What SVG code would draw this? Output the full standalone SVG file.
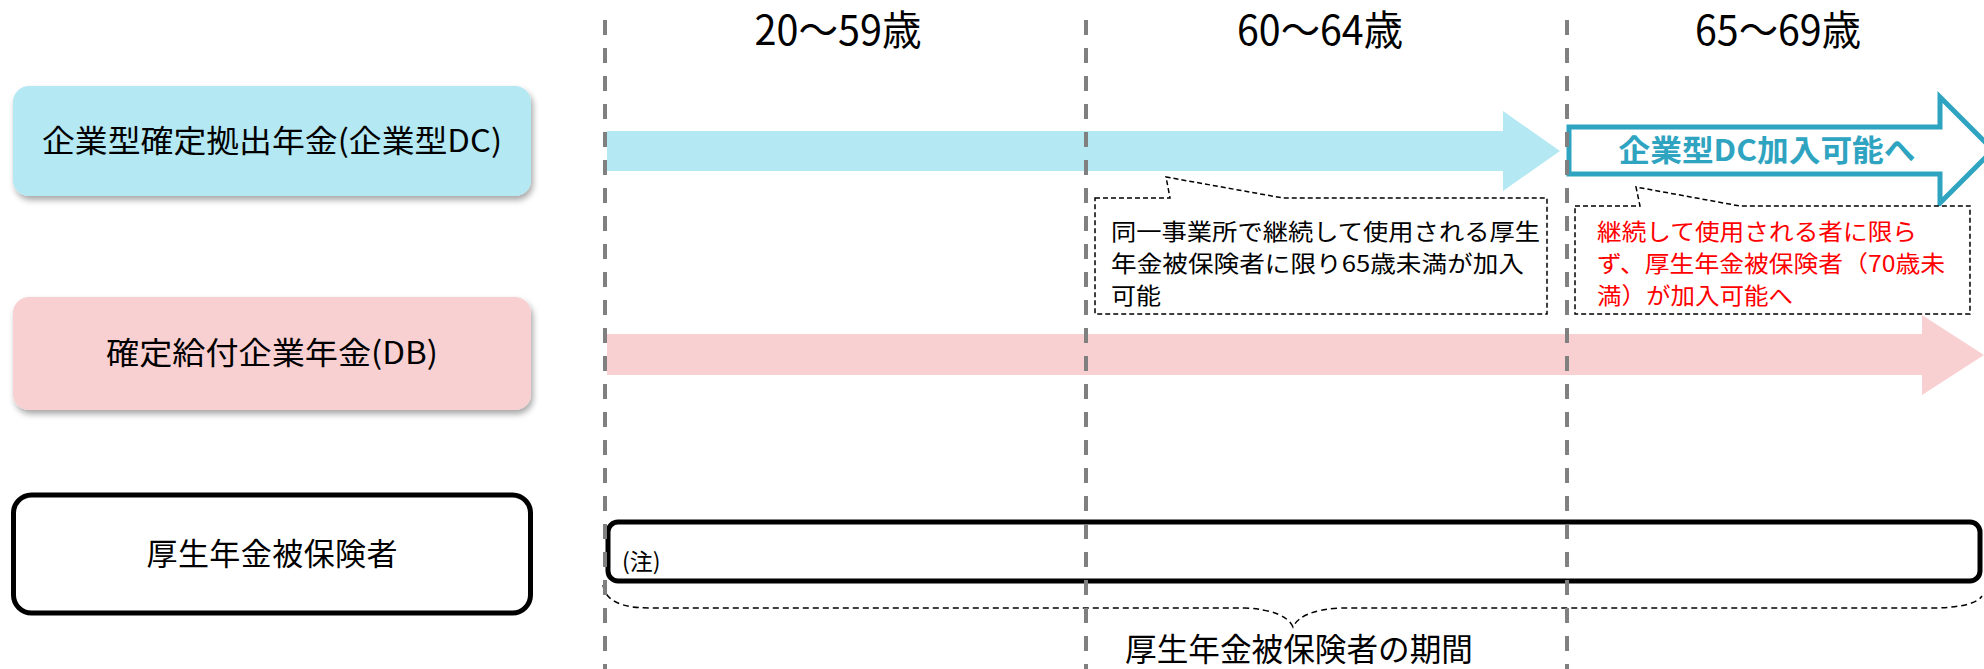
<svg xmlns="http://www.w3.org/2000/svg" width="1984" height="669" viewBox="0 0 1984 669">
<defs>
<filter id="sh" x="-5%" y="-10%" width="110%" height="130%">
<feDropShadow dx="2" dy="4" stdDeviation="3" flood-color="#000" flood-opacity="0.35"/>
</filter>
<style>
text{font-family:"Noto Sans CJK JP","Noto Sans CJK SC",sans-serif;fill:#000}
.hdr{font-size:41px;text-anchor:middle}
.node{font-size:31px;text-anchor:middle}
.note{font-size:23px}
.red{fill:#ff0000}
.vline{stroke:#808080;stroke-width:4;stroke-dasharray:15 13;fill:none}
.callout{fill:#fff;stroke:#000;stroke-width:1.5;stroke-dasharray:5 3}
</style>
</defs>
<rect width="1984" height="669" fill="#fff"/>

<g id="headers">
<text class="hdr" x="838" y="45" textLength="167" lengthAdjust="spacingAndGlyphs">20～59歳</text>
<text class="hdr" x="1320" y="45" textLength="166" lengthAdjust="spacingAndGlyphs">60～64歳</text>
<text class="hdr" x="1778" y="45" textLength="166" lengthAdjust="spacingAndGlyphs">65～69歳</text>
</g>

<g id="node-dc">
<rect x="13" y="86" width="518" height="110" rx="16" fill="#b4e8f3" filter="url(#sh)"/>
<text class="node" x="272" y="152" textLength="460" lengthAdjust="spacingAndGlyphs">企業型確定拠出年金(企業型DC)</text>
</g>
<g id="node-db">
<rect x="13" y="297" width="518" height="113" rx="16" fill="#f8d0d2" filter="url(#sh)"/>
<text class="node" x="272" y="364" textLength="332" lengthAdjust="spacingAndGlyphs">確定給付企業年金(DB)</text>
</g>
<g id="node-kosei">
<rect x="13.5" y="495" width="517" height="118" rx="18" fill="#fff" stroke="#000" stroke-width="5"/>
<text class="node" x="272" y="565" font-size="32" textLength="251">厚生年金被保険者</text>
</g>

<g id="connectors">
<polygon id="arrow-dc" points="607,131 1503,131 1503,111 1560,151 1503,191 1503,171 607,171" fill="#b4e8f3"/>
<g id="arrow-dc-future">
<path d="M1569,127 L1940,127 L1940,97 L1993,150 L1940,203 L1940,174 L1569,174 Z" fill="#fff" stroke="#2fa4c1" stroke-width="5"/>
<text x="1767" y="161" font-size="30" font-weight="bold" text-anchor="middle" style="fill:#2fa4c1" textLength="297" lengthAdjust="spacingAndGlyphs">企業型DC加入可能へ</text>
</g>
<polygon id="arrow-db" points="607,334 1922,334 1922,315 1984,355 1922,395 1922,375 607,375" fill="#f8d0d2"/>
<g id="bar-kosei">
<rect x="608" y="522" width="1372" height="59" rx="10" fill="#fff" stroke="#000" stroke-width="5"/>
<text class="note" x="622" y="570" font-size="26">(注)</text>
</g>
<path id="brace" d="M603,585 Q606,608 650,608 L1245,608 Q1285,610 1293,627 Q1301,610 1341,608 L1935,608 Q1975,607 1982,596" fill="none" stroke="#000" stroke-width="1.5" stroke-dasharray="6 4"/>
</g>

<g id="dividers">
<line class="vline" x1="605" y1="20" x2="605" y2="669"/>
<line class="vline" x1="1086" y1="20" x2="1086" y2="669"/>
<line class="vline" x1="1567" y1="20" x2="1567" y2="669"/>
</g>

<g id="callout-1">
<path class="callout" d="M1095,198 L1170,198 L1166,177 L1283,198 L1547,198 L1547,314 L1095,314 Z"/>
<text class="note" x="1111" y="240" textLength="429" lengthAdjust="spacingAndGlyphs">同一事業所で継続して使用される厚生</text>
<text class="note" x="1111" y="272" textLength="413" lengthAdjust="spacingAndGlyphs">年金被保険者に限り65歳未満が加入</text>
<text class="note" x="1111" y="304" textLength="50" lengthAdjust="spacingAndGlyphs">可能</text>
</g>
<g id="callout-2">
<path class="callout" d="M1575,206 L1640,206 L1636,187 L1740,206 L1970,206 L1970,314 L1575,314 Z"/>
<text class="note red" x="1597" y="240" textLength="320" lengthAdjust="spacingAndGlyphs">継続して使用される者に限ら</text>
<text class="note red" x="1597" y="272" textLength="348" lengthAdjust="spacingAndGlyphs">ず、厚生年金被保険者（70歳未</text>
<text class="note red" x="1597" y="304" textLength="196" lengthAdjust="spacingAndGlyphs">満）が加入可能へ</text>
</g>

<g id="footer">
<text x="1299" y="661" font-size="32" text-anchor="middle" textLength="348" lengthAdjust="spacingAndGlyphs">厚生年金被保険者の期間</text>
</g>
</svg>
